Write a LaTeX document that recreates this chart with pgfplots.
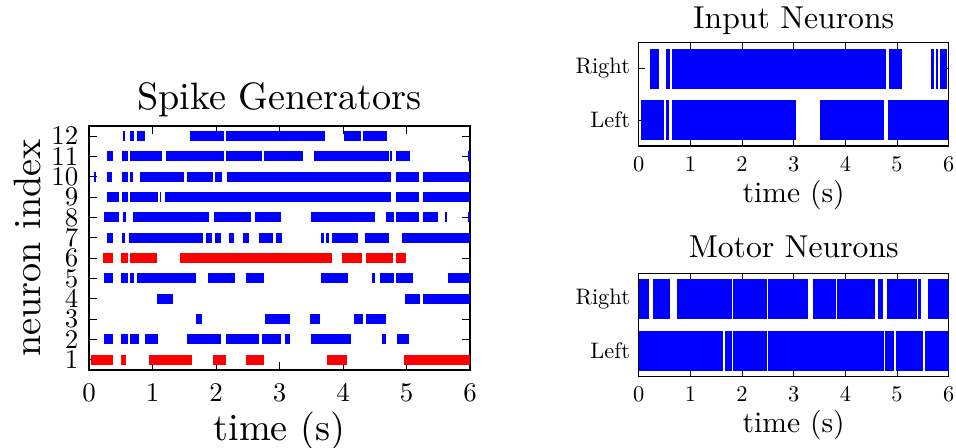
\documentclass[border=0pt]{standalone}
\usepackage{pgfplots}
\pgfplotsset{compat=1.18}
% use the 10pt design size at every size (as matplotlib's scaled cmr10)
\normalfont
\DeclareFontShape{TU}{lmr}{m}{n}{<-> "[lmroman10-regular]:mapping=tex-text;"}{}
\DeclareFontShape{OT1}{cmr}{m}{n}{<-> cmr10}{}
\DeclareFontShape{OML}{cmm}{m}{it}{<-> cmmi10}{}
\pgfplotsset{
  raster/.style={no markers, empty line=jump, line cap=butt},
  rasteraxis/.style={scale only axis, anchor=south west,
    xmin=0, xmax=6, xtick={0,1,2,3,4,5,6},
    tick align=inside, xtick pos=both, ytick pos=both,
    every axis/.append style={line width=1.4bp},
    tick style={line width=0.9bp, black},
    clip=true},
}
\begin{document}
\begin{tikzpicture}
\useasboundingbox (0,0) rectangle (956bp,448bp);
% ---------------- Spike Generators ----------------
\begin{axis}[rasteraxis,
  at={(89bp,78bp)}, width=381bp, height=244bp,
  ymin=0.5, ymax=12.5, ytick={1,2,3,4,5,6,7,8,9,10,11,12},
  major tick length=8bp,
  tick label style={font=\fontsize{27}{27}\selectfont},
  xticklabel style={anchor=north, inner sep=0pt, yshift=-13bp},
  yticklabel style={anchor=east, inner sep=0pt, xshift=-10bp},
  title={Spike Generators},
  title style={font=\fontsize{38.3}{38.3}\selectfont, at={(axis description cs:0.5,1)}, anchor=base, yshift=11bp},
  xlabel={time (s)},
  xlabel style={font=\fontsize{38.3}{38.3}\selectfont, at={(axis description cs:0.5,-0.248)}, anchor=center},
  ylabel={neuron index},
  ylabel style={font=\fontsize{38.3}{38.3}\selectfont, at={(axis description cs:-0.1614,0.5)}, anchor=center, rotate=0},
]
\addplot[blue, line width=10bp, raster] table {
x y
0.54 12
0.57 12

0.65 12
0.71 12

0.76 12
0.88 12

1.59 12
2.12 12

2.16 12
3.72 12

4.01 12
4.28 12

4.31 12
4.69 12
};
\addplot[blue, line width=10bp, raster] table {
x y
0.29 11
0.38 11

0.52 11
0.61 11

0.65 11
1.15 11

1.21 11
2.12 11

2.16 11
2.73 11

2.76 11
3.37 11

3.55 11
4.72 11

4.74 11
4.77 11

4.84 11
5.06 11

5.97 11
6.00 11
};
\addplot[blue, line width=10bp, raster] table {
x y
0.08 10
0.11 10

0.29 10
0.37 10

0.52 10
0.62 10

0.65 10
0.70 10

0.81 10
1.50 10

1.54 10
1.95 10

1.98 10
2.10 10

2.18 10
4.76 10

4.84 10
5.20 10

5.26 10
6.00 10
};
\addplot[blue, line width=10bp, raster] table {
x y
0.29 9
0.48 9

0.52 9
0.62 9

0.65 9
1.08 9

1.12 9
1.14 9

1.20 9
4.76 9

4.84 9
5.20 9

5.26 9
6.00 9
};
\addplot[blue, line width=10bp, raster] table {
x y
0.24 8
0.47 8

0.53 8
0.58 8

0.70 8
1.89 8

1.97 8
2.55 8

2.62 8
3.03 8

3.50 8
4.51 8

4.67 8
4.80 8

4.84 8
5.19 8

5.26 8
5.49 8

5.60 8
5.63 8

5.97 8
6.00 8
};
\addplot[blue, line width=10bp, raster] table {
x y
0.29 7
0.38 7

0.52 7
0.57 7

0.63 7
1.80 7

1.85 7
1.93 7

1.98 7
2.08 7

2.20 7
2.28 7

2.42 7
2.52 7

2.67 7
2.89 7

2.94 7
3.04 7

3.66 7
3.70 7

3.73 7
3.78 7

3.82 7
4.24 7

4.34 7
4.72 7

4.93 7
6.00 7
};
\addplot[red, line width=10bp, raster] table {
x y
0.22 6
0.38 6

0.51 6
0.62 6

0.65 6
1.07 6

1.43 6
3.82 6

3.98 6
4.30 6

4.37 6
4.78 6

4.84 6
4.99 6
};
\addplot[blue, line width=10bp, raster] table {
x y
0.24 5
0.38 5

0.51 5
0.61 5

0.65 5
0.71 5

0.75 5
1.69 5

1.88 5
2.30 5

2.47 5
2.75 5

3.65 5
4.08 5

4.46 5
4.50 5

4.58 5
4.80 5

4.84 5
5.10 5

5.65 5
6.00 5
};
\addplot[blue, line width=10bp, raster] table {
x y
1.07 4
1.33 4

4.98 4
5.22 4

5.26 4
6.00 4
};
\addplot[blue, line width=10bp, raster] table {
x y
1.68 3
1.78 3

2.77 3
3.16 3

3.48 3
3.64 3

4.17 3
4.31 3

4.37 3
4.68 3
};
\addplot[blue, line width=10bp, raster] table {
x y
0.24 2
0.38 2

0.51 2
0.61 2

0.65 2
0.79 2

0.88 2
1.08 2

1.55 2
2.08 2

2.16 2
2.68 2

2.73 2
3.03 2

3.08 2
3.17 2

3.50 2
4.12 2

4.61 2
4.68 2

4.85 2
5.04 2
};
\addplot[red, line width=10bp, raster] table {
x y
0.03 1
0.38 1

0.51 1
0.58 1

0.94 1
1.62 1

1.96 1
2.15 1

2.47 1
2.75 1

3.75 1
4.06 1

4.96 1
6.00 1
};
\end{axis}
% ---------------- Input Neurons ----------------
\begin{axis}[rasteraxis,
  at={(638.7bp,302bp)}, width=310bp, height=103.3bp,
  ymin=-0.5, ymax=1.5, ytick={0,1}, yticklabels={Left,Right},
  major tick length=6bp,
  tick label style={font=\fontsize{22.5}{22.5}\selectfont},
  xticklabel style={anchor=north, inner sep=0pt, yshift=-10.7bp},
  yticklabel style={anchor=east, inner sep=0pt, xshift=-8bp},
  title={Input Neurons},
  title style={font=\fontsize{31.8}{31.8}\selectfont, at={(axis description cs:0.5,1)}, anchor=base, yshift=8.4bp},
  xlabel={time (s)},
  xlabel style={font=\fontsize{29.7}{29.7}\selectfont, at={(axis description cs:0.5,-0.474)}, anchor=center},
]
\addplot[blue, line width=40bp, raster] table {
x y
0.22 1
0.39 1

0.52 1
0.61 1

0.64 1
4.79 1

4.84 1
5.10 1

5.65 1
5.72 1

5.75 1
5.80 1

5.83 1
5.97 1
};
\addplot[blue, line width=40bp, raster] table {
x y
0.05 0
0.49 0

0.53 0
0.59 0

0.65 0
3.04 0

3.50 0
4.74 0

4.83 0
5.99 0
};
\end{axis}
% ---------------- Motor Neurons ----------------
\begin{axis}[rasteraxis,
  at={(638.7bp,71.3bp)}, width=310bp, height=103.4bp,
  ymin=-0.5, ymax=1.5, ytick={0,1}, yticklabels={Left,Right},
  major tick length=6bp,
  tick label style={font=\fontsize{22.5}{22.5}\selectfont},
  xticklabel style={anchor=north, inner sep=0pt, yshift=-10bp},
  yticklabel style={anchor=east, inner sep=0pt, xshift=-8bp},
  title={Motor Neurons},
  title style={font=\fontsize{31.8}{31.8}\selectfont, at={(axis description cs:0.5,1)}, anchor=base, yshift=10bp},
  xlabel={time (s)},
  xlabel style={font=\fontsize{29.7}{29.7}\selectfont, at={(axis description cs:0.5,-0.467)}, anchor=center},
]
\addplot[blue, line width=40bp, raster] table {
x y
0.00 1
0.20 1

0.28 1
0.61 1

0.75 1
1.80 1

1.83 1
2.48 1

2.51 1
3.28 1

3.38 1
3.81 1

3.84 1
4.58 1

4.63 1
4.73 1

4.80 1
5.38 1

5.40 1
5.46 1

5.59 1
6.00 1
};
\addplot[blue, line width=40bp, raster] table {
x y
0.00 0
1.64 0

1.67 0
1.80 0

1.83 0
2.48 0

2.50 0
4.75 0

4.77 0
4.95 0

4.98 0
5.51 0

5.55 0
6.00 0
};
\end{axis}
\end{tikzpicture}
\end{document}
